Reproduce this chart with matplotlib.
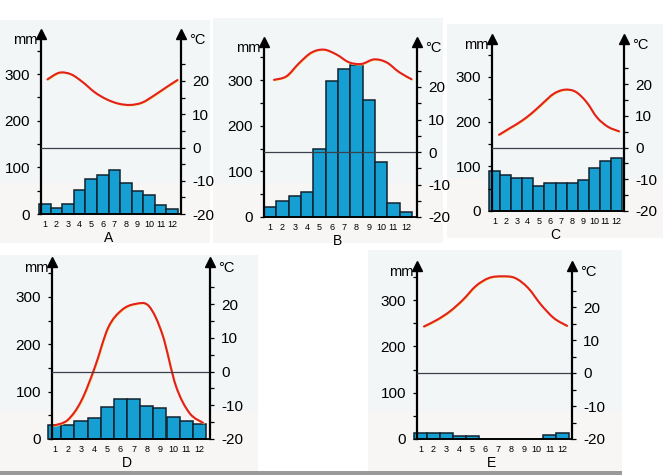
import numpy as np
import matplotlib
matplotlib.use('Agg')
import matplotlib.pyplot as plt
from matplotlib.path import Path
from matplotlib.patches import PathPatch, Rectangle
from matplotlib.transforms import ScaledTranslation

plt.rcParams['font.family'] = ['Liberation Sans', 'DejaVu Sans']
plt.rcParams['axes.unicode_minus'] = False

W, H = 663, 475

months = np.arange(1, 13)

# rainfall, mm
rain_a = [21, 13, 21, 52, 76, 84, 94, 66, 49, 40, 20, 11]
rain_b = [22, 34, 45, 55, 148, 298, 323, 332, 257, 120, 31, 12]
rain_c = [90, 81, 73, 73, 57, 63, 63, 63, 69, 97, 113, 119]
rain_d = [30, 30, 39, 44, 68, 84, 84, 70, 65, 46, 37, 32]
rain_e = [12, 12, 12, 6, 6, 1, 1, 1, 1, 1, 9, 14]

# temperature, deg C
temp_a = [20.5, 22.5, 22.0, 19.6, 16.6, 14.5, 13.2, 12.8, 13.5, 15.6, 18.0, 20.3]
temp_b = [22.2, 23.3, 27.3, 30.6, 31.5, 30.0, 27.6, 27.1, 28.5, 27.6, 24.6, 22.4]
temp_c = [4.0, 6.1, 8.2, 10.8, 13.9, 16.9, 18.2, 17.6, 14.4, 9.4, 6.5, 5.1]
temp_d = [-16.0, -14.4, -8.8, 1.1, 13.0, 18.2, 20.0, 19.4, 11.0, -4.3, -12.3, -15.2]
temp_e = [14.1, 16.1, 18.7, 22.2, 26.4, 28.8, 29.3, 28.8, 25.8, 20.7, 16.6, 14.3]

mm_labels = [0, 100, 200, 300]
deg_labels = [-20, -10, 0, 10, 20]


def px_rect(x0, y0, x1, y1):
    # pixel box (y from the top) to figure fractions
    return [x0 / W, 1 - y1 / H, (x1 - x0) / W, (y1 - y0) / H]


def smooth_path(x, y):
    # bezier through the monthly values
    verts = [(x[0], y[0])]
    codes = [Path.MOVETO]
    n = len(x)
    for i in range(n - 1):
        a = max(i - 1, 0)
        d = min(i + 2, n - 1)
        verts.append((x[i] + (x[i + 1] - x[a]) / 6, y[i] + (y[i + 1] - y[a]) / 6))
        verts.append((x[i + 1] - (x[d] - x[i]) / 6, y[i + 1] - (y[d] - y[i]) / 6))
        verts.append((x[i + 1], y[i + 1]))
        codes += [Path.CURVE4] * 3
    return Path(verts, codes)


def panel(name, rain, temp, left, right, bar_l, bar_r, y0, y300, tip, y20, line_l, line_r):
    top = tip + 4
    ax = fig.add_axes(px_rect(left, top, right, y0))
    ax.patch.set_alpha(0)
    w = (bar_r - bar_l) / 12.0
    ax.set_xlim((left - bar_l) / w + 0.5, (right - bar_l) / w + 0.5)
    mm_px = (y0 - y300) / 300.0
    ax.set_ylim(0, (y0 - top) / mm_px)

    ax.bar(months, rain, width=1.0, color='#159fd2', edgecolor='#10222e', linewidth=1.1, clip_on=False)

    ax.spines['top'].set_visible(False)
    ax.spines['right'].set_visible(False)
    ax.spines['bottom'].set_linewidth(1.3)
    ax.spines['left'].set_linewidth(1.6)
    ax.set_yticks(mm_labels)
    ax.set_yticks([50, 150, 250, 350], minor=True)
    ax.tick_params(axis='y', which='both', length=3, width=0.9, pad=5, labelsize=11)
    ax.set_xticks(months)
    ax.tick_params(axis='x', length=0, pad=4, labelsize=6.5)
    ax.plot([0], [1], '^', color='black', ms=7.5, transform=ax.transAxes, clip_on=False)
    label_y = 1.0 - 6 / (y0 - top)
    ax.text(-0.025, label_y, 'mm', transform=ax.transAxes, ha='right', va='center', fontsize=10.5)

    deg_px = (y0 - y20) / 40.0
    ax2 = ax.twinx()
    ax2.patch.set_alpha(0)
    ax2.set_ylim(-20, -20 + (y0 - top) / deg_px)
    for s in ['top', 'left', 'bottom']:
        ax2.spines[s].set_visible(False)
    ax2.spines['right'].set_linewidth(1.6)
    ax2.set_yticks(deg_labels)
    ax2.set_yticks([-15, -5, 5, 15, 25], minor=True)
    ax2.tick_params(axis='y', which='both', length=3, width=0.9, pad=5, labelsize=11)
    ax2.plot([1], [1], '^', color='black', ms=7.5, transform=ax2.transAxes, clip_on=False)
    ax2.text(1 + 8.0 / (right - left), label_y, '°C', transform=ax2.transAxes, ha='left', va='center', fontsize=10.5)

    # 0 deg line, then the temperature curve with its yellow fringe
    ax2.axhline(0, color='#3c4048', lw=0.9)
    xs = np.linspace((line_l - bar_l) / w + 0.5, (line_r - bar_l) / w + 0.5, 12)
    p = smooth_path(xs, temp)
    shift = ScaledTranslation(0.6 / 100, -0.6 / 100, fig.dpi_scale_trans)
    ax2.add_patch(PathPatch(p, fc='none', ec='#f7e070', lw=1.3, capstyle='round',
                            transform=ax2.transData + shift))
    ax2.add_patch(PathPatch(p, fc='none', ec='#e4201c', lw=1.5, capstyle='round'))

    fig.text((bar_l + bar_r) / 2.0 / W, 1 - (y0 + 24) / H, name, ha='center', va='center', fontsize=10)


fig = plt.figure(figsize=(W / 100, H / 100), dpi=100, facecolor='white')

# paper scans behind the charts
bg = fig.add_axes([0, 0, 1, 1])
bg.set_xlim(0, W)
bg.set_ylim(H, 0)
bg.axis('off')
for x0, y0, x1, y1 in [(0, 20, 210, 243), (213, 18, 443, 243), (447, 24, 663, 238),
                       (0, 255, 258, 471), (368, 250, 622, 471)]:
    bg.add_patch(Rectangle((x0, y0), x1 - x0, y1 - y0, fc='#f3f6f7', ec='none'))
    bg.add_patch(Rectangle((x0, y1 - 60), x1 - x0, 60, fc='#f8f5f5', ec='none'))
bg.add_patch(Rectangle((0, 471), 622, 4, fc='#9a9a9a', ec='none'))

panel('A', rain_a, temp_a, 41, 181, 39, 178, 214, 74, 30, 81, 47.5, 177.5)
panel('B', rain_b, temp_b, 264, 417, 264, 412, 217, 80, 38, 87, 274, 411.5)
panel('C', rain_c, temp_c, 492, 624, 489, 622, 211, 77, 35, 84, 499, 619)
panel('D', rain_d, temp_d, 52, 210, 48, 206, 439, 297, 258, 304, 54, 203)
panel('E', rain_e, temp_e, 417, 572, 414, 569, 439, 300, 262, 307, 424, 567)

plt.savefig('out.png', dpi=100)
